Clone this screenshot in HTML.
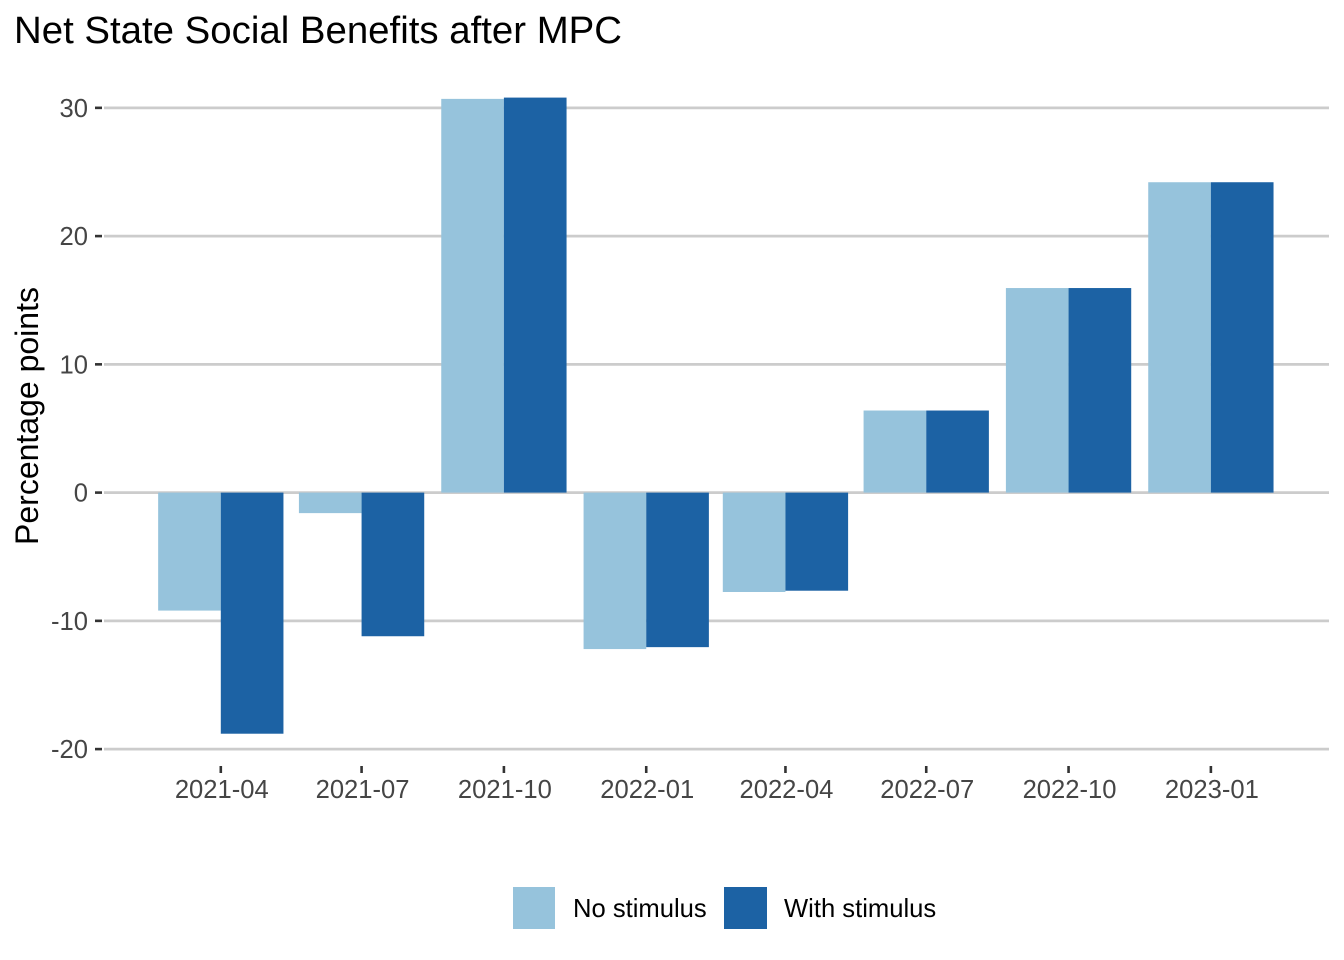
<!DOCTYPE html>
<html lang="en">
<head>
<meta charset="utf-8">
<title>Net State Social Benefits after MPC</title>
<style>
html,body{margin:0;padding:0;background:#fff;width:1344px;height:960px;overflow:hidden}
svg{display:block;font-family:"Liberation Sans",Arial,sans-serif}
</style>
</head>
<body>
<svg id="chart" width="1344" height="960" viewBox="0 0 1344 960" xmlns="http://www.w3.org/2000/svg">
<rect x="0" y="0" width="1344" height="960" fill="#ffffff"/>
<text x="14" y="43" font-size="38.2" textLength="608" lengthAdjust="spacingAndGlyphs" fill="#000000">Net State Social Benefits after MPC</text>
<text transform="translate(38,416) rotate(-90)" text-anchor="middle" font-size="32" fill="#000000">Percentage points</text>
<g id="grid"></g>
<g id="bars"></g>
<g id="y-axis"></g>
<g id="x-axis"></g>
<g>
<g>
<rect x="513" y="887" width="42" height="42" fill="#96c3dc"/>
<text x="573" y="917" font-size="25.6" fill="#000000">No stimulus</text>
</g>
<g>
<rect x="724" y="887" width="43" height="42" fill="#1c62a4"/>
<text x="784" y="917" font-size="25.6" fill="#000000">With stimulus</text>
</g>
</g>
</svg>
<script>
const categories = ["2021-04", "2021-07", "2021-10", "2022-01", "2022-04", "2022-07", "2022-10", "2023-01"];
const noStimulus = [-9.2, -1.6, 30.7, -12.2, -7.75, 6.4, 15.95, 24.2];
const withStimulus = [-18.8, -11.2, 30.8, -12.05, -7.65, 6.4, 15.95, 24.2];
const yTickValues = [-20, -10, 0, 10, 20, 30];

const NS = "http://www.w3.org/2000/svg";
const X_PER_DAY = 1.547, X_ORIGIN = 220.8, BAR_DAYS = 40.5;
const dayOf = function (c) {
  const p = c.split("-");
  return (Date.UTC(+p[0], +p[1] - 1, 1) - Date.UTC(2021, 3, 1)) / 86400000;
};
const xScale = function (d) { return X_ORIGIN + d * X_PER_DAY; };
const yScale = function (v) { return 492.6 - v * 12.825; };
const make = function (tag, attrs, parent) {
  const el = document.createElementNS(NS, tag);
  Object.keys(attrs).forEach(function (k) { el.setAttribute(k, attrs[k]); });
  parent.appendChild(el);
  return el;
};
const gridG = document.getElementById("grid");
const barsG = document.getElementById("bars");
const yG = document.getElementById("y-axis");
const xG = document.getElementById("x-axis");

yTickValues.forEach(function (v) {
  const y = yScale(v);
  const line = make("line", { x1: 104, x2: 1329, y1: y, y2: y, stroke: "#cccccc", "stroke-width": 2.7 }, gridG);
  
  
  const tick = make("line", { x1: 95, x2: 102, y1: y, y2: y, stroke: "#333333", "stroke-width": 2.6 }, yG);
  
  
  const label = make("text", { x: 88, y: y + 9, "text-anchor": "end", "font-size": 25.6, fill: "#454545" }, yG);
  
  
  label.textContent = v;
});

categories.forEach(function (c, i) {
  const cx = xScale(dayOf(c));
  const w = BAR_DAYS * X_PER_DAY;
  const y0 = yScale(0);
  const y1 = yScale(noStimulus[i]);
  const y2 = yScale(withStimulus[i]);
  const a = make("rect", { x: cx - w, width: w, y: Math.min(y0, y1), height: Math.abs(y1 - y0), fill: "#96c3dc" }, barsG);
  
  
  const b = make("rect", { x: cx, width: w, y: Math.min(y0, y2), height: Math.abs(y2 - y0), fill: "#1c62a4" }, barsG);
  
  
  const tick = make("line", { x1: cx, x2: cx, y1: 766, y2: 773, stroke: "#333333", "stroke-width": 2.6 }, xG);
  
  
  const label = make("text", { x: cx + 1, y: 798, "text-anchor": "middle", "font-size": 25.6, fill: "#454545" }, xG);
  
  
  label.textContent = c;
});
</script>
</body>
</html>
